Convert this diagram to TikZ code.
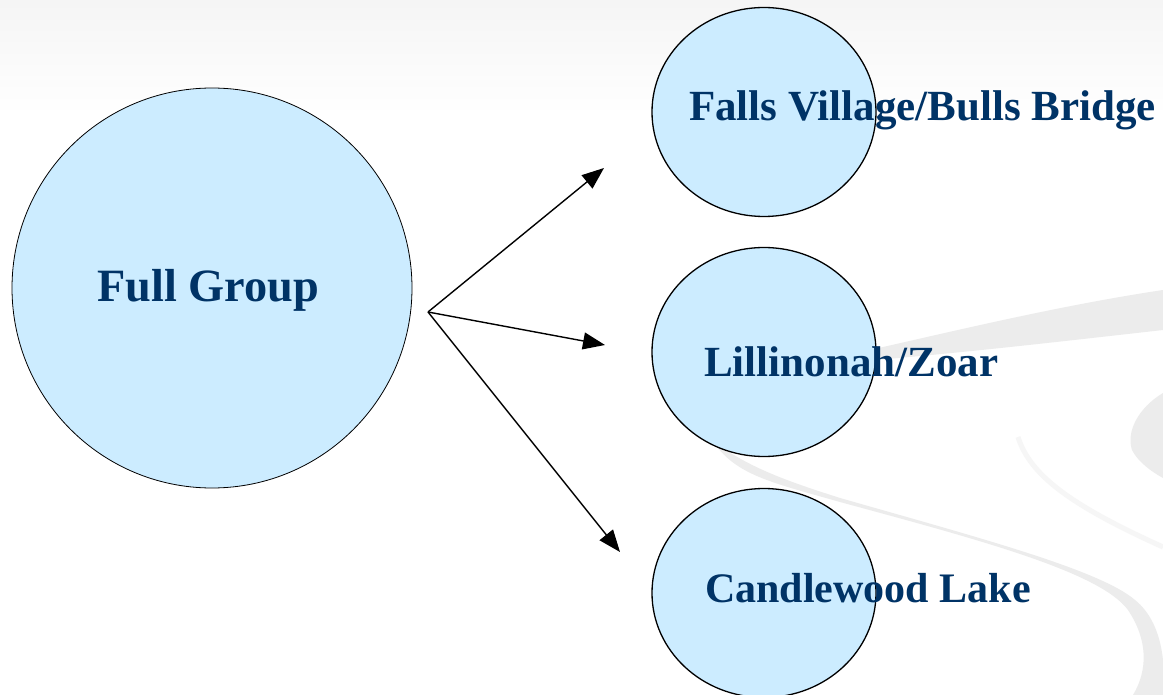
\documentclass[tikz,border=0pt]{standalone}
\usepackage{fontspec}
\setmainfont{Liberation Serif}
\usetikzlibrary{arrows.meta,shapes.geometric}
\definecolor{bubble}{HTML}{CCECFF}
\definecolor{navy}{HTML}{003366}
\definecolor{swoosh}{HTML}{ECECEC}
\definecolor{swooshlight}{HTML}{F6F6F6}
\tikzset{
  bigcirc/.style={circle,draw=black,line width=0.8pt,fill=bubble,minimum size=400pt,inner sep=0pt},
  smallcirc/.style={ellipse,draw=black,line width=1.3pt,fill=bubble,minimum width=224pt,minimum height=209pt,inner sep=0pt},
  bigtext/.style={text=navy,font=\bfseries\fontsize{46.3}{50}\selectfont,inner sep=0pt,anchor=base west},
  smalltext/.style={text=navy,font=\bfseries\fontsize{43}{48}\selectfont,inner sep=0pt,anchor=base west},
  link/.style={line width=1.4pt,-{Triangle[length=22pt,width=17pt]}}
}
\begin{document}
\begin{tikzpicture}[x=1pt,y=-1pt]
\useasboundingbox (0,0) rectangle (1163,695);
\fill[white] (0,0) rectangle (1163,695);
% top gradient
\shade[top color=gray!8,bottom color=white] (0,0) rectangle (1163,115);
% background swooshes
\fill[swoosh] (800,365) .. controls (900,345) and (1030,310) .. (1163,290) -- (1163,330) .. controls (1030,345) and (900,360) .. (800,365) -- cycle;
\fill[swoosh] (712,440) .. controls (735,475) and (770,482) .. (840,502) .. controls (980,540) and (1100,572) .. (1128,610) .. controls (1148,640) and (1148,670) .. (1133,695) -- (1163,695) -- (1163,660) .. controls (1160,632) and (1150,612) .. (1135,600) .. controls (1100,570) and (980,538) .. (840,498) .. controls (790,482) and (748,468) .. (712,440) -- cycle;
\fill[swoosh] (1163,393) .. controls (1138,408) and (1126,432) .. (1132,450) .. controls (1138,462) and (1152,472) .. (1163,478) -- cycle;
\draw[swooshlight,line width=5pt] (1018,437) .. controls (1030,475) and (1070,505) .. (1163,547);
% circles
\node[bigcirc] (full) at (212,288) {};
\node[smallcirc] (falls) at (764,112) {};
\node[smallcirc] (lill) at (764,352) {};
\node[smallcirc] (cand) at (764,593) {};
% labels
\node[bigtext] (tfull) at (97,302) {Full Group};
\node[smalltext] (tfalls) at (689,121) {Falls Village/Bulls Bridge};
\node[smalltext] (tlill) at (704,377) {Lillinonah/Zoar};
\node[smalltext,font=\bfseries\fontsize{42}{48}\selectfont] (tcand) at (705,602) {Candlewood Lake};
% connectors
\coordinate (src) at (428,312);
\coordinate (e1) at (604,168);
\coordinate (e2) at (605,345);
\coordinate (e3) at (620,552);
\draw[link] (src) -- (e1);
\draw[link] (src) -- (e2);
\draw[link] (src) -- (e3);
\end{tikzpicture}
\end{document}
